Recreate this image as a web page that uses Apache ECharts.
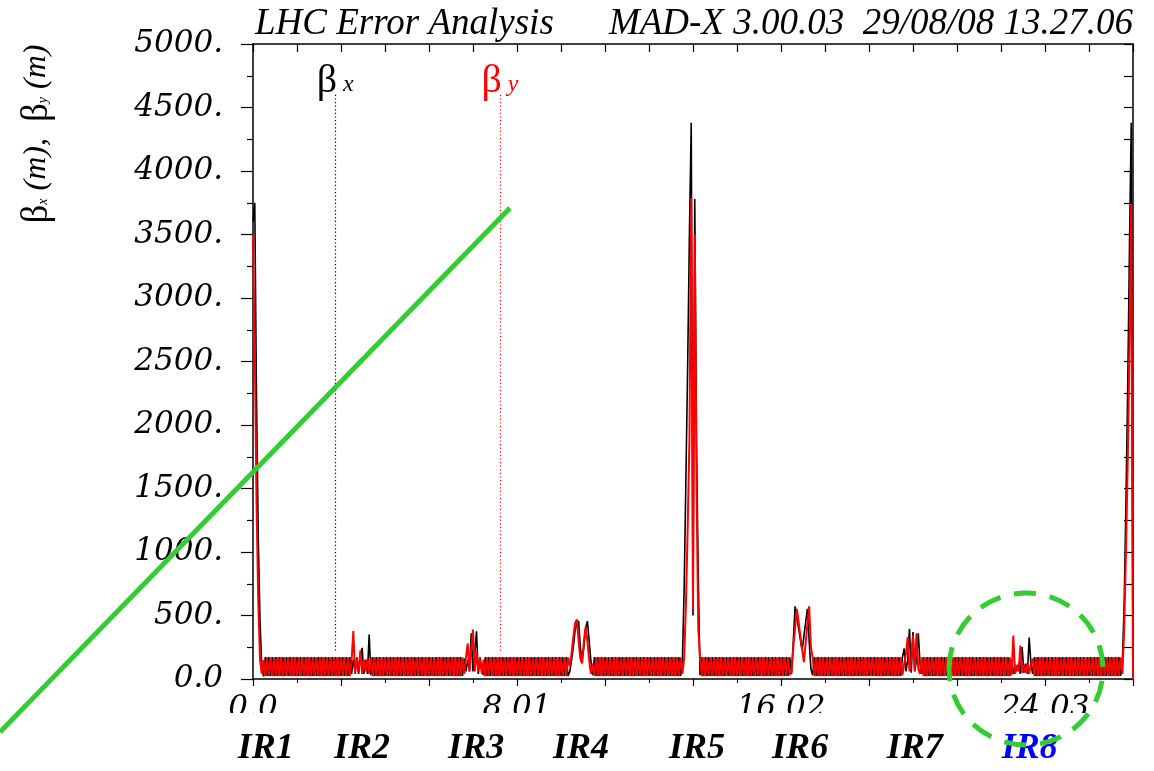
<!DOCTYPE html>
<html>
<head>
<meta charset="utf-8">
<script src="https://cdn.jsdelivr.net/npm/echarts@6.0.0/dist/echarts.min.js"></script>
<style>
  html, body { margin: 0; padding: 0; background: #fff; }
  #chart { width: 1154px; height: 771px; }
</style>
</head>
<body>
<div id="chart"></div>
<script>
// Beta functions around the ring, one sample every half FODO cell (0.0534 km).
const sampleStepKm = 0.0534;

// Axis tick labels
const xTickLabels = ['0.0', '8.01', '16.02', '24.03'];
const yTickLabels = ['0.0', '500.', '1000.', '1500.', '2000.', '2500.', '3000.', '3500.', '4000.', '4500.', '5000.'];

// Insertion region names shown under the axis, and where they sit (km)
const irNames = ['IR1', 'IR2', 'IR3', 'IR4', 'IR5', 'IR6', 'IR7', 'IR8'];
const irLabelKm = [0.39, 3.31, 6.77, 9.95, 13.47, 16.6, 20.08, 23.57];

// ---- beta_x (m) ----
const betxIR1Start = [3600, 3750, 2200, 1100, 450, 90, 20];
const betxArc12 = [
  172,24,172,24,172,24,172,24,172,24,
  172,24,172,24,172,24,172,24,172,24,
  172,24,172,24,172,24,172,24,172,24,
  172,24,172,24,172,24,172,24,172,24,
  172,24,172,24,172,24,172,24,172];
const betxIR2 = [40, 150, 60, 170, 40, 160, 246, 40, 150, 40, 351, 30];
const betxArc23 = [
  172,24,172,24,172,24,172,24,172,24,
  172,24,172,24,172,24,172,24,172,24,
  172,24,172,24,172,24,172,24,172,24,
  172,24,172,24,172,24,172,24,172,24,
  172,24,172,24,172,24,172,24,172,24,
  172,24];
const betxIR3 = [160, 60, 150, 60, 360, 60, 200, 375, 40, 170, 60, 30];
const betxArc34 = [
  172,24,172,24,172,24,172,24,172,24,
  172,24,172,24,172,24,172,24,172,24,
  172,24,172,24,172,24,172,24,172,24,
  172,24,172,24,172,24,172,24,172,24,
  172,24,172,24,172,24,172,24];
const betxIR4 = [60, 150, 250, 380, 440, 456, 250, 146, 250, 400, 456, 300, 140, 30];
const betxArc45 = [
  172,24,172,24,172,24,172,24,172,24,
  172,24,172,24,172,24,172,24,172,24,
  172,24,172,24,172,24,172,24,172,24,
  172,24,172,24,172,24,172,24,172,24,
  172,24,172,24,172,24,172,24,172,24];
const betxIR5 = [160, 730, 1600, 2500, 3540, 4380, 500, 3780, 1850, 800, 30];
const betxArc56 = [
  172,24,172,24,172,24,172,24,172,24,
  172,24,172,24,172,24,172,24,172,24,
  172,24,172,24,172,24,172,24,172,24,
  172,24,172,24,172,24,172,24,172,24,
  172,24,172,24,172,24,172,24,172,24];
const betxIR6 = [170, 40, 300, 572, 485, 400, 310, 225, 335, 444, 553, 300, 80, 30];
const betxArc67 = [
  172,24,172,24,172,24,172,24,172,24,
  172,24,172,24,172,24,172,24,172,24,
  172,24,172,24,172,24,172,24,172,24,
  172,24,172,24,172,24,172,24,172,24,
  172,24,172,24,172,24,172,24,172,24];
const betxIR7 = [170, 240, 60, 150, 396, 50, 369, 60, 150, 359, 120, 40];
const betxArc78 = [
  172,24,172,24,172,24,172,24,172,24,
  172,24,172,24,172,24,172,24,172,24,
  172,24,172,24,172,24,172,24,172,24,
  172,24,172,24,172,24,172,24,172,24,
  172,24,172,24,172,24,172,24,172,24];
const betxIR8 = [150, 40, 110, 60, 120, 40, 251, 50, 120, 40, 327, 120, 40];
const betxArc81 = [
  172,24,172,24,172,24,172,24,172,24,
  172,24,172,24,172,24,172,24,172,24,
  172,24,172,24,172,24,172,24,172,24,
  172,24,172,24,172,24,172,24,172,24,
  172,24,172,24,172,24,172,24,172,24];
const betxIR1End = [150, 600, 1400, 2300, 3400, 4380, 0];

// ---- beta_y (m) ----
const betyIR1Start = [3500, 2600, 1400, 600, 150, 40, 150];
const betyArc12 = [
  22,170,22,170,22,170,22,170,22,170,
  22,170,22,170,22,170,22,170,22,170,
  22,170,22,170,22,170,22,170,22,170,
  22,170,22,170,22,170,22,170,22,170,
  22,170,22,170,22,170,22,170,22];
const betyIR2 = [140, 377, 40, 160, 60, 225, 40, 150, 60, 160, 40, 170];
const betyArc23 = [
  22,170,22,170,22,170,22,170,22,170,
  22,170,22,170,22,170,22,170,22,170,
  22,170,22,170,22,170,22,170,22,170,
  22,170,22,170,22,170,22,170,22,170,
  22,170,22,170,22,170,22,170,22,170,
  22,170];
const betyIR3 = [40, 170, 280, 60, 230, 390, 60, 220, 60, 170, 40, 150];
const betyArc34 = [
  22,170,22,170,22,170,22,170,22,170,
  22,170,22,170,22,170,22,170,22,170,
  22,170,22,170,22,170,22,170,22,170,
  22,170,22,170,22,170,22,170,22,170,
  22,170,22,170,22,170,22,170];
const betyIR4 = [100, 200, 330, 440, 469, 300, 160, 122, 300, 409, 300, 150, 40, 120];
const betyArc45 = [
  22,170,22,170,22,170,22,170,22,170,
  22,170,22,170,22,170,22,170,22,170,
  22,170,22,170,22,170,22,170,22,170,
  22,170,22,170,22,170,22,170,22,170,
  22,170,22,170,22,170,22,170,22,170];
const betyIR5 = [40, 170, 600, 1200, 1900, 3790, 550, 3500, 1500, 400, 170];
const betyArc56 = [
  22,170,22,170,22,170,22,170,22,170,
  22,170,22,170,22,170,22,170,22,170,
  22,170,22,170,22,170,22,170,22,170,
  22,170,22,170,22,170,22,170,22,170,
  22,170,22,170,22,170,22,170,22,170];
const betyIR6 = [30, 60, 250, 400, 553, 450, 340, 235, 133, 280, 430, 572, 250, 170];
const betyArc67 = [
  22,170,22,170,22,170,22,170,22,170,
  22,170,22,170,22,170,22,170,22,170,
  22,170,22,170,22,170,22,170,22,170,
  22,170,22,170,22,170,22,170,22,170,
  22,170,22,170,22,170,22,170,22,170];
const betyIR7 = [30, 120, 200, 330, 60, 150, 343, 60, 359, 80, 40, 170];
const betyArc78 = [
  22,170,22,170,22,170,22,170,22,170,
  22,170,22,170,22,170,22,170,22,170,
  22,170,22,170,22,170,22,170,22,170,
  22,170,22,170,22,170,22,170,22,170,
  22,170,22,170,22,170,22,170,22,170];
const betyIR8 = [30, 343, 40, 110, 60, 264, 50, 110, 50, 120, 40, 120, 160];
const betyArc81 = [
  22,170,22,170,22,170,22,170,22,170,
  22,170,22,170,22,170,22,170,22,170,
  22,170,22,170,22,170,22,170,22,170,
  22,170,22,170,22,170,22,170,22,170,
  22,170,22,170,22,170,22,170,22,170];
const betyIR1End = [40, 400, 1000, 1700, 2600, 3740, 0];

// Legend marker positions (km) for the dotted beta_x / beta_y keys
const legendKeyKm = [2.49, 7.49];
const legendKeyTop = 4600;
const legendKeyBottom = 210;

const betx = [].concat(betxIR1Start, betxArc12, betxIR2, betxArc23, betxIR3, betxArc34,
  betxIR4, betxArc45, betxIR5, betxArc56, betxIR6, betxArc67, betxIR7, betxArc78,
  betxIR8, betxArc81, betxIR1End);
const bety = [].concat(betyIR1Start, betyArc12, betyIR2, betyArc23, betyIR3, betyArc34,
  betyIR4, betyArc45, betyIR5, betyArc56, betyIR6, betyArc67, betyIR7, betyArc78,
  betyIR8, betyArc81, betyIR1End);

const toPoints = arr => arr.map((b, i) => [+(i * sampleStepKm).toFixed(4), b]);

const labelFont = { fontFamily: 'DejaVu Serif', fontStyle: 'italic', fontSize: 31, color: '#000' };
const frameLine = { show: true, onZero: false, lineStyle: { color: '#000', width: 1.5 } };

const chart = echarts.init(document.getElementById('chart'), null, { renderer: 'canvas' });

const option = {
  animation: false,
  backgroundColor: '#ffffff',
  grid: { left: 253, right: 21, top: 44, bottom: 92 },
  xAxis: [
    {
      type: 'value', min: 0, max: 26.7, interval: 2.67, position: 'bottom',
      axisLine: frameLine,
      axisTick: { show: true, inside: false, length: 7, lineStyle: { color: '#000', width: 1.2 } },
      minorTick: { show: true, splitNumber: 2, length: 4, lineStyle: { color: '#000', width: 1 } },
      splitLine: { show: false },
      axisLabel: Object.assign({
        margin: 14, hideOverlap: false,
        formatter: v => {
          const k = Math.round(v / 2.67);
          return k % 3 === 0 && xTickLabels[k / 3] !== undefined ? xTickLabels[k / 3] : '';
        }
      }, labelFont)
    },
    {
      type: 'value', min: 0, max: 26.7, interval: 1.335, position: 'top',
      axisLine: frameLine,
      axisTick: { show: true, inside: true, length: 8, lineStyle: { color: '#000', width: 1.2 } },
      axisLabel: { show: false },
      splitLine: { show: false }
    }
  ],
  yAxis: [
    {
      type: 'value', min: 0, max: 5000, interval: 500, position: 'left',
      axisLine: frameLine,
      axisTick: { show: true, inside: false, length: 12, lineStyle: { color: '#000', width: 1.2 } },
      minorTick: { show: true, splitNumber: 2, length: 6, lineStyle: { color: '#000', width: 1.2 } },
      splitLine: { show: false },
      axisLabel: Object.assign({
        margin: 30,
        formatter: v => yTickLabels[Math.round(v / 500)]
      }, labelFont)
    },
    {
      type: 'value', min: 0, max: 5000, interval: 250, position: 'right',
      axisLine: frameLine,
      axisTick: { show: true, inside: true, length: 9, lineStyle: { color: '#000', width: 1.2 } },
      axisLabel: { show: false },
      splitLine: { show: false }
    }
  ],
  series: [
    {
      name: 'betx', type: 'line', xAxisIndex: 0, yAxisIndex: 0,
      data: toPoints(betx), showSymbol: false, symbol: 'none', z: 2,
      lineStyle: { color: '#000000', width: 1.6 },
      markLine: {
        silent: true, symbol: ['none', 'none'], label: { show: false },
        lineStyle: { color: '#000', width: 1.2, type: [1.2, 2.4] },
        data: [[{ coord: [legendKeyKm[0], legendKeyTop] }, { coord: [legendKeyKm[0], legendKeyBottom] }]]
      }
    },
    {
      name: 'bety', type: 'line', xAxisIndex: 0, yAxisIndex: 0,
      data: toPoints(bety), showSymbol: false, symbol: 'none', z: 3,
      lineStyle: { color: '#ff0000', width: 2 },
      markLine: {
        silent: true, symbol: ['none', 'none'], label: { show: false },
        lineStyle: { color: '#ff0000', width: 1.2, type: [1.2, 2.4] },
        data: [[{ coord: [legendKeyKm[1], legendKeyTop] }, { coord: [legendKeyKm[1], legendKeyBottom] }]]
      }
    }
  ]
};

chart.setOption(option);

const px = v => chart.convertToPixel({ xAxisIndex: 0 }, v);
const gridRight = px(26.7);

const serif = 'Liberation Serif';
const graphics = [];

// Header line
graphics.push({
  type: 'text', x: px(0) + 2, y: 24, z: 40,
  style: { text: 'LHC Error Analysis', fontFamily: serif, fontStyle: 'italic', fontSize: 37, fill: '#000', align: 'left', verticalAlign: 'middle' }
});
graphics.push({
  type: 'text', x: gridRight, y: 24, z: 40,
  style: { text: 'MAD-X 3.00.03  29/08/08 13.27.06', fontFamily: serif, fontStyle: 'italic', fontSize: 37, fill: '#000', align: 'right', verticalAlign: 'middle' }
});

// Vertical axis title
graphics.push({
  type: 'text', x: 37, y: 134, rotation: Math.PI / 2, z: 40,
  style: {
    text: '{g|β}{s|x}{t| (m),  }{g|β}{s|y}{t| (m)}',
    align: 'center', verticalAlign: 'middle',
    rich: {
      g: { fontFamily: serif, fontSize: 37, fill: '#000' },
      s: { fontFamily: serif, fontStyle: 'italic', fontSize: 14, fill: '#000', padding: [13, 0, 0, 0] },
      t: { fontFamily: serif, fontStyle: 'italic', fontSize: 32, fill: '#000' }
    }
  }
});

// Keys for the two curves
const keyColors = ['#000000', '#ff0000'];
const keySubs = ['x', 'y'];
legendKeyKm.forEach((km, i) => {
  const lx = px(km);
  graphics.push({
    type: 'text', x: lx + 2, y: 81, z: 40,
    style: { text: 'β', fontFamily: serif, fontSize: 40, fill: keyColors[i], align: 'right', verticalAlign: 'middle' }
  });
  graphics.push({
    type: 'text', x: lx + 8, y: 85, z: 40,
    style: { text: keySubs[i], fontFamily: serif, fontStyle: 'italic', fontSize: 24, fill: keyColors[i], align: 'left', verticalAlign: 'middle' }
  });
});

// Band under the plot that trims the tick numbers
graphics.push({
  type: 'rect', z: 50, silent: true,
  shape: { x: 0, y: 713, width: 1154, height: 58 },
  style: { fill: '#ffffff' }
});

// Insertion region names
irNames.forEach((name, i) => {
  graphics.push({
    type: 'text', x: px(irLabelKm[i]), y: 749, z: 51,
    style: {
      text: name, fontFamily: serif, fontStyle: 'italic', fontWeight: 'bold', fontSize: 36,
      fill: name === 'IR8' ? '#0000ff' : '#000000', align: 'center', verticalAlign: 'middle'
    }
  });
});

// Green highlight marks drawn over the figure
graphics.push({
  type: 'line', z: 60, silent: true,
  shape: { x1: 0, y1: 732, x2: 510, y2: 208 },
  style: { stroke: '#33cc33', lineWidth: 5 }
});
graphics.push({
  type: 'ellipse', z: 60, silent: true,
  shape: { cx: 1026, cy: 669, rx: 77, ry: 76 },
  style: { fill: 'none', stroke: '#33cc33', lineWidth: 5, lineDash: [22, 14] }
});

chart.setOption({ graphic: graphics });
</script>
</body>
</html>
